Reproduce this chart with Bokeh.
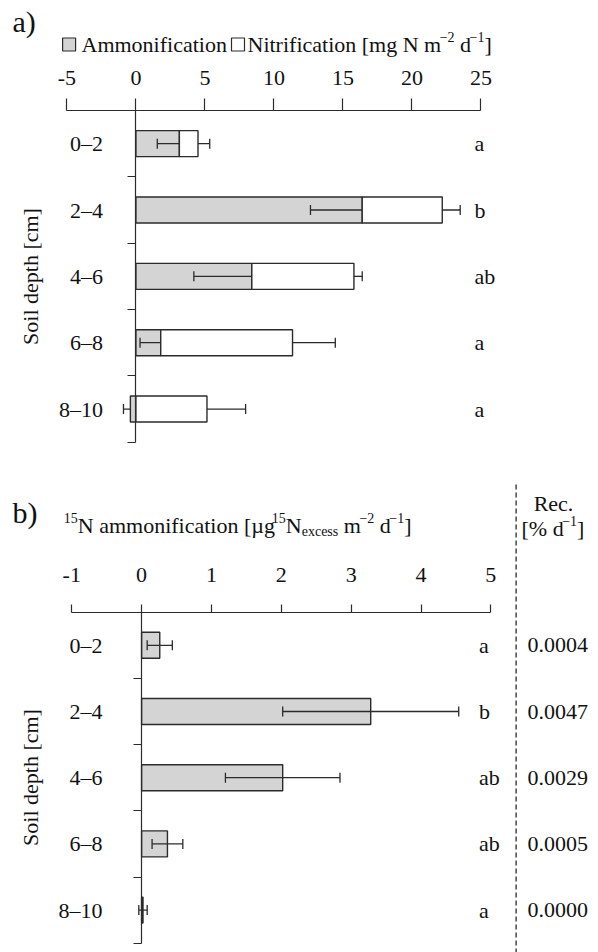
import math
from bokeh.plotting import figure
from bokeh.models import (LinearAxis, FixedTicker, CustomJSTickFormatter, Range1d,
                          ColumnDataSource, Whisker, TeeHead, Label)
from bokeh.core.properties import value
from bokeh.layouts import column
from bokeh.embed import file_html
from bokeh.resources import INLINE

# ---------------- data ----------------
depths = ["0–2", "2–4", "4–6", "6–8", "8–10"]

ammonification = [3.15, 16.4, 8.4, 1.8, -0.4]
ammonification_se = [1.6, 3.75, 4.2, 1.5, 0.5]
nitrification = [1.35, 5.8, 7.4, 9.55, 5.15]
nitrification_se = [0.85, 1.3, 0.6, 3.1, 2.8]
letters_a = ["a", "b", "ab", "a", "a"]
ticks_a = [-5, 0, 5, 10, 15, 20, 25]

n15_ammonification = [0.26, 3.28, 2.02, 0.37, 0.02]
n15_se = [0.18, 1.26, 0.82, 0.22, 0.06]
letters_b = ["a", "b", "ab", "ab", "a"]
recovery = ["0.0004", "0.0047", "0.0029", "0.0005", "0.0000"]
ticks_b = [-1, 0, 1, 2, 3, 4, 5]

# ---------------- style ----------------
W = 598
FONT = "Liberation Serif"
F = 22
SUP = 14
INK = "#2b2b2b"
GRAY = "#d4d4d4"
NB = "\u00a0"

TW = {' ': 250, NB: 250, '[': 333, ']': 333, '%': 833, '.': 250, '-': 333, '−': 564,
      '–': 500, 'µ': 500, 'A': 722, 'N': 722, 'R': 667, 'a': 444, 'b': 500, 'c': 444,
      'd': 500, 'e': 444, 'f': 333, 'g': 500, 'h': 500, 'i': 278, 'l': 278, 'm': 778,
      'n': 500, 'o': 500, 'p': 500, 'r': 333, 's': 389, 't': 278, 'u': 500, 'x': 500}


def tw(s, size):
    return sum(TW.get(c, 500) for c in s) * size / 1000.0


class Map:
    def __init__(self, x0, xs, y0, ys):
        self.x0, self.xs, self.y0, self.ys = x0, xs, y0, ys

    def x(self, px):
        return (px - self.x0) / self.xs

    def y(self, py):
        return (py - self.y0) / self.ys


def make_fig(m, H):
    p = figure(width=W, height=H, x_range=Range1d(m.x(0), m.x(W)),
               y_range=Range1d(m.y(H), m.y(0)),
               x_axis_location=None, y_axis_location=None,
               toolbar_location=None, output_backend="svg", min_border=0,
               outline_line_color=None, background_fill_color="white",
               border_fill_color="white")
    p.grid.visible = False
    return p


def label(p, m, xp, yp, text, size=F, align="left", angle=0.0):
    p.add_layout(Label(x=m.x(xp), y=m.y(yp), text=text, text_font=FONT,
                       text_font_size=f"{size}px", text_align=align,
                       text_baseline="middle", text_color="#111", angle=angle))


def rich(p, m, xp, yp, pieces):
    x = xp
    for txt, kind in pieces:
        size = F if kind == "n" else SUP
        dy = {"n": 0, "sup": -8, "sub": 6}[kind]
        shift = -1.5 if kind == "sup" else 0
        label(p, m, x + shift, yp + dy, txt.replace(" ", NB), size=size)
        x += tw(txt, size) + shift


def h_axis(p, ticks, tick_out, standoff):
    ax = LinearAxis(fixed_location=0, bounds=(ticks[0], ticks[-1]),
                    ticker=FixedTicker(ticks=ticks, minor_ticks=[]),
                    formatter=CustomJSTickFormatter(code="return tick.toString()"),
                    major_tick_out=tick_out, major_tick_in=0,
                    minor_tick_out=0, minor_tick_in=0,
                    major_label_standoff=standoff,
                    major_label_text_font=FONT, major_label_text_font_size=f"{F}px",
                    major_label_text_color="#111",
                    axis_line_color=INK, axis_line_width=1.2,
                    major_tick_line_color=INK, major_tick_line_width=1.2)
    p.add_layout(ax, "above")


def v_axis(p, standoff):
    n = len(depths)
    ax = LinearAxis(fixed_location=0, bounds=(0, n),
                    ticker=FixedTicker(ticks=[i + 0.5 for i in range(n)],
                                       minor_ticks=list(range(n + 1))),
                    formatter=CustomJSTickFormatter(args=dict(labels=depths),
                                                    code="return labels[Math.floor(tick)]"),
                    major_tick_out=0, major_tick_in=0,
                    minor_tick_out=8, minor_tick_in=0,
                    major_label_standoff=standoff,
                    major_label_text_font=FONT, major_label_text_font_size=f"{F}px",
                    major_label_text_color="#111",
                    axis_line_color=INK, axis_line_width=1.2,
                    minor_tick_line_color=INK, minor_tick_line_width=1.2)
    p.add_layout(ax, "left")


ycent = [i + 0.5 for i in range(len(depths))]

# ================= panel a =================
HA = 470
ma = Map(135.4, 13.8, 110.0, 66.34)
pa = make_fig(ma, HA)

nit_left = [max(a, 0) for a in ammonification]
nit_right = [l + n for l, n in zip(nit_left, nitrification)]
src_a = ColumnDataSource(dict(
    y=ycent, amm=ammonification, nl=nit_left, nr=nit_right,
    amm_lo=[a - s for a, s in zip(ammonification, ammonification_se)],
    nit_hi=[r + s for r, s in zip(nit_right, nitrification_se)],
    let=letters_a))

bh = 26 / 66.34
pa.hbar(y="y", left=0, right="amm", height=bh, source=src_a,
        fill_color=GRAY, line_color=INK, line_width=1.4)
pa.hbar(y="y", left="nl", right="nr", height=bh, source=src_a,
        fill_color="white", line_color=INK, line_width=1.4)
pa.add_layout(Whisker(source=src_a, base="y", lower="amm_lo", upper="amm", dimension="width",
                      line_color=INK, line_width=1.3, level="annotation",
                      lower_head=TeeHead(size=10, line_color=INK, line_width=1.3),
                      upper_head=None))
pa.add_layout(Whisker(source=src_a, base="y", lower="nr", upper="nit_hi", dimension="width",
                      line_color=INK, line_width=1.3, level="annotation",
                      upper_head=TeeHead(size=10, line_color=INK, line_width=1.3),
                      lower_head=None))
pa.text(x=ma.x(474), y="y", text="let", source=src_a, text_font=value(FONT),
        text_font_size=f"{F}px", text_align="left", text_baseline="middle",
        text_color="#111")

h_axis(pa, ticks_a, 12, 14)
v_axis(pa, 25)

label(pa, ma, 12, 21, "a)", size=30)
label(pa, ma, 29.6, 276, "Soil depth [cm]", align="center", angle=math.pi / 2)
pa.scatter(x=[ma.x(68.6), ma.x(237.5)], y=[ma.y(44), ma.y(44)], marker="square", size=13,
           fill_color=[GRAY, "white"], line_color=INK, line_width=1.2)
rich(pa, ma, 81, 44, [("Ammonification", "n")])
rich(pa, ma, 247, 44, [("Nitrification [mg N m", "n"), ("−2", "sup"), (" d", "n"),
                       ("−1", "sup"), ("]", "n")])

# ================= panel b =================
HB = 482
mb = Map(141.1, 69.85, 141.7, 66.2)
pb = make_fig(mb, HB)

src_b = ColumnDataSource(dict(
    y=ycent, v=n15_ammonification,
    lo=[a - s for a, s in zip(n15_ammonification, n15_se)],
    hi=[a + s for a, s in zip(n15_ammonification, n15_se)],
    let=letters_b, rec=recovery))

pb.hbar(y="y", left=0, right="v", height=26 / 66.2, source=src_b,
        fill_color=GRAY, line_color=INK, line_width=1.4)
pb.add_layout(Whisker(source=src_b, base="y", lower="lo", upper="hi", dimension="width",
                      line_color=INK, line_width=1.3, level="annotation",
                      lower_head=TeeHead(size=10, line_color=INK, line_width=1.3),
                      upper_head=TeeHead(size=10, line_color=INK, line_width=1.3)))
pb.text(x=mb.x(478.6), y="y", text="let", source=src_b, text_font=value(FONT),
        text_font_size=f"{F}px", text_align="left", text_baseline="middle",
        text_color="#111")
pb.text(x=mb.x(527), y="y", text="rec", source=src_b, text_font=value(FONT),
        text_font_size=f"{F}px", text_align="left", text_baseline="middle",
        text_color="#111")
pb.segment(x0=[mb.x(515.6)], y0=[mb.y(14)], x1=[mb.x(515.6)], y1=[mb.y(HB)],
           line_color=INK, line_width=1.3, line_dash="5 3")

h_axis(pb, ticks_b, 8, 22)
v_axis(pb, 31)

label(pb, mb, 12, 42, "b)", size=30)
label(pb, mb, 29.6, 307, "Soil depth [cm]", align="center", angle=math.pi / 2)
rich(pb, mb, 64.8, 55, [("15", "sup"), ("N ammonification [µg", "n"), ("15", "sup"),
                        ("N", "n"), ("excess", "sub"), (" m", "n"), ("−2", "sup"),
                        (" d", "n"), ("−1", "sup"), ("]", "n")])
label(pb, mb, 553, 33, "Rec.", align="center")
rich(pb, mb, 521, 58, [("[% d", "n"), ("−1", "sup"), ("]", "n")])

layout = column(pa, pb)
open("out.html", "w").write(file_html(layout, INLINE))
